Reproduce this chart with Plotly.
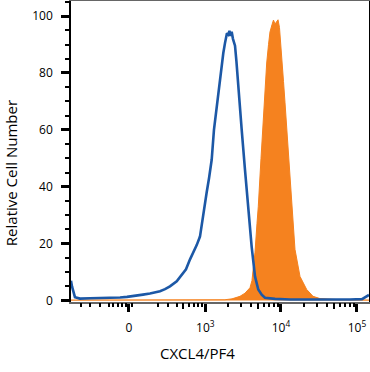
import numpy as np
import plotly.graph_objects as go

# ---- data (x in display units of a biexponential axis: decade positions) ----
iso_x = [1.237, 1.25, 1.289, 1.355, 1.487, 1.618, 1.75, 1.882, 1.974, 2.079, 2.184, 2.276,
         2.408, 2.474, 2.539, 2.628, 2.711, 2.75, 2.803, 2.842, 2.891, 2.934, 2.957, 2.974,
         3.0, 3.022, 3.053, 3.088, 3.118, 3.154, 3.171, 3.197, 3.224, 3.241, 3.263, 3.276,
         3.289, 3.307, 3.322, 3.336, 3.351, 3.368, 3.395, 3.414, 3.438, 3.461, 3.483, 3.526,
         3.570, 3.614, 3.658, 3.701, 3.746, 3.789, 3.921, 4.118, 4.382, 4.645, 4.908, 5.066,
         5.118, 5.158]
iso_y = [7, 5, 1.2, 0.7, 0.8, 0.9, 0.8, 1.1, 1.3, 1.6, 2.1, 2.5,
         3.3, 4.0, 5.0, 6.8, 9.5, 11, 14.5, 16.5, 19.5, 22.5, 27, 30,
         34, 38, 43, 49.5, 60, 68, 73, 77.5, 83, 87, 90.5, 92.7,
         94, 93.5, 94.8, 93, 94.5, 92, 89.6, 84, 75, 67, 60, 46,
         32, 19, 8.5, 3.9, 2.1, 1.0, 0.6, 0.4, 0.4, 0.3, 0.4, 0.5,
         1.2, 2.0]

pf4_x = [1.237, 2.934, 3.263, 3.355, 3.461, 3.526, 3.592, 3.618, 3.658, 3.684, 3.701, 3.737,
         3.767, 3.789, 3.812, 3.836, 3.855, 3.882, 3.901, 3.921, 3.941, 3.961, 3.980, 4.009,
         4.033, 4.053, 4.096, 4.141, 4.184, 4.25, 4.338, 4.421, 4.513, 4.776, 5.158]
pf4_y = [0.2, 0.2, 0.3, 0.6, 1.5, 2.6, 4.5, 7, 17, 27, 33, 50,
         63.5, 75, 83.5, 90, 94.4, 97, 98.6, 97.2, 97.8, 98.7, 96, 87,
         77, 69.5, 52, 33, 18, 8.5, 3.9, 1.5, 0.7, 0.3, 0.2]

major_ticks = [0, 1e3, 1e4, 1e5]
major_labels = ["0", "10<sup>3</sup>", "10<sup>4</sup>", "10<sup>5</sup>"]
mid_ticks = [500, 5e3, 5e4]
minor_ticks = [-400, -300, -200, -130, -100, -70, -40, -20, 20,
               200, 300, 400, 600, 700, 800, 900,
               2e3, 3e3, 4e3, 6e3, 7e3, 8e3, 9e3,
               2e4, 3e4, 4e4, 6e4, 7e4, 8e4, 9e4]


def biex(v, c=100.0, d0=2.0):
    v = np.asarray(v, dtype=float)
    return (d0 + np.arcsinh(v / (2 * c)) / np.log(10)).tolist()


XR = [1.237, 5.158]
YR = [-0.5, 105.3]

fig = go.Figure()
fig.add_trace(go.Scatter(x=pf4_x, y=pf4_y, mode="lines", fill="tozeroy",
                         fillcolor="#F5821F", line=dict(color="#F5821F", width=1),
                         showlegend=False, hoverinfo="skip"))
fig.add_trace(go.Scatter(x=iso_x, y=iso_y, mode="lines",
                         line=dict(color="#1C58A6", width=2.6),
                         showlegend=False, hoverinfo="skip"))
# invisible traces to activate overlay axes
fig.add_trace(go.Scatter(x=[XR[0]], y=[0], xaxis="x2", mode="markers",
                         marker=dict(opacity=0), showlegend=False, hoverinfo="skip"))
fig.add_trace(go.Scatter(x=[XR[0]], y=[0], xaxis="x3", mode="markers",
                         marker=dict(opacity=0), showlegend=False, hoverinfo="skip"))

font = "Open Sans, Lato, sans-serif"

fig.update_layout(
    width=370, height=372,
    margin=dict(l=71, r=1, t=1, b=70, autoexpand=False),
    paper_bgcolor="white", plot_bgcolor="white",
    font=dict(family=font, color="black", size=12),
    xaxis=dict(range=XR, tickmode="array", tickvals=biex(major_ticks), ticktext=major_labels,
               ticks="outside", ticklen=8, tickwidth=2.5, tickcolor="black",
               showgrid=False, zeroline=False, showline=True, linecolor="#666666",
               linewidth=1.5, mirror=True, ticklabelstandoff=6, automargin=False,
               tickfont=dict(size=12, family=font)),
    xaxis2=dict(range=XR, overlaying="x", anchor="y", side="bottom", tickmode="array",
                tickvals=biex(minor_ticks), ticks="outside", ticklen=4, tickwidth=1.8,
                tickcolor="black", showticklabels=False, showgrid=False, zeroline=False,
                showline=False, automargin=False),
    xaxis3=dict(range=XR, overlaying="x", anchor="y", side="bottom", tickmode="array",
                tickvals=biex(mid_ticks), ticks="outside", ticklen=6, tickwidth=2.2,
                tickcolor="black", showticklabels=False, showgrid=False, zeroline=False,
                showline=False, automargin=False),
    yaxis=dict(range=YR, tickmode="array", tickvals=[0, 20, 40, 60, 80, 100],
               ticks="outside", ticklen=8, tickwidth=3, tickcolor="black",
               minor=dict(ticks="outside", ticklen=4, tickwidth=1.5, dtick=5, tick0=0,
                          tickcolor="black", showgrid=False),
               showgrid=False, zeroline=False, showline=True, linecolor="black",
               linewidth=1.5, mirror=True, ticklabelstandoff=6, automargin=False,
               tickfont=dict(size=12, family=font)),
    annotations=[
        dict(text="Relative Cell Number", xref="paper", yref="paper",
             x=(11 - 71) / 298, y=(302 - 173) / 301.4, textangle=-90,
             xanchor="center", yanchor="middle", showarrow=False,
             font=dict(size=15, family=font, color="black")),
        dict(text="CXCL4/PF4", xref="paper", yref="paper",
             x=(197 - 71) / 298, y=(302 - 353) / 301.4,
             xanchor="center", yanchor="middle", showarrow=False,
             font=dict(size=15, family=font, color="black")),
    ],
)

fig.write_html("out.html", config={"displayModeBar": False},
               post_script="document.body.style.margin='0';document.body.style.padding='0';")
